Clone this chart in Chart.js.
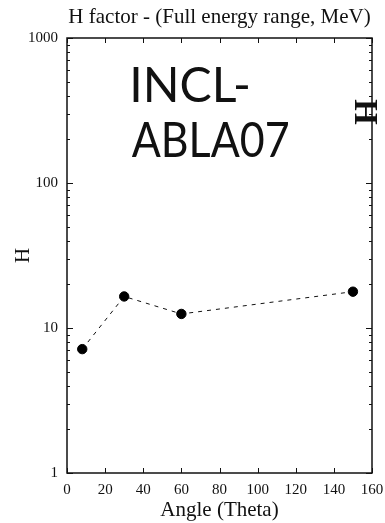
<!DOCTYPE html>
<html>
<head>
<meta charset="utf-8">
<script src="https://cdn.jsdelivr.net/npm/chart.js@4"></script>
<style>
  html, body { margin: 0; padding: 0; background: #fff; }
  #wrap { width: 385px; height: 523px; }
</style>
</head>
<body>
<div id="wrap"><canvas id="c" width="385" height="523"></canvas></div>
<script>
// H factor versus emission angle
const angles  = [8, 30, 60, 150];
const hValues = [7.15, 16.5, 12.5, 17.8];

// Axis ticks
const xTicks      = [0, 20, 40, 60, 80, 100, 120, 140, 160];
const yMajorTicks = [1, 10, 100, 1000];
const yMinorTicks = [2, 3, 4, 5, 6, 7, 8, 9,
                     20, 30, 40, 50, 60, 70, 80, 90,
                     200, 300, 400, 500, 600, 700, 800, 900];

const titleText  = 'H factor - (Full energy range, MeV)';
const xAxisTitle = 'Angle (Theta)';
const yAxisTitle = 'H';
const sideLabel  = 'H';
const modelLines = ['INCL-', 'ABLA07'];

const SERIF = '"Liberation Serif", "DejaVu Serif", serif';
const INK = '#111';

// Draws a line of text so that its ink spans [left, left + width]
function fitText(ctx, text, left, baseline, width) {
  const m = ctx.measureText(text);
  const inkLeft = -m.actualBoundingBoxLeft;
  const inkW = m.actualBoundingBoxRight + m.actualBoundingBoxLeft;
  const sx = width / inkW;
  ctx.save();
  ctx.translate(left, baseline);
  ctx.scale(sx, 1);
  ctx.fillText(text, -inkLeft, 0);
  ctx.restore();
}

// Frame with inward ticks on all four sides, plus the free text
const framePlugin = {
  id: 'frame',
  afterDraw(chart) {
    const { ctx, chartArea: a, scales: { x, y } } = chart;
    ctx.save();
    ctx.strokeStyle = INK;
    ctx.lineWidth = 1.5;
    ctx.strokeRect(a.left, a.top, a.right - a.left, a.bottom - a.top);

    ctx.lineWidth = 1;
    ctx.beginPath();
    xTicks.forEach(v => {
      const px = Math.round(x.getPixelForValue(v)) + 0.5;
      ctx.moveTo(px, a.bottom); ctx.lineTo(px, a.bottom - 5);
      ctx.moveTo(px, a.top);    ctx.lineTo(px, a.top + 5);
    });
    yMajorTicks.forEach(v => {
      const py = Math.round(y.getPixelForValue(v)) + 0.5;
      ctx.moveTo(a.left, py);  ctx.lineTo(a.left + 6, py);
      ctx.moveTo(a.right, py); ctx.lineTo(a.right - 6, py);
    });
    yMinorTicks.forEach(v => {
      const py = Math.round(y.getPixelForValue(v)) + 0.5;
      ctx.moveTo(a.left, py);  ctx.lineTo(a.left + 3, py);
      ctx.moveTo(a.right, py); ctx.lineTo(a.right - 3, py);
    });
    ctx.stroke();

    // Title centred over the plot area
    ctx.fillStyle = INK;
    ctx.textAlign = 'center';
    ctx.textBaseline = 'alphabetic';
    ctx.font = '21px ' + SERIF;
    ctx.fillText(titleText, (a.left + a.right) / 2, 22.5);

    // Model name
    ctx.textAlign = 'left';
    ctx.font = '47.5px Lato, "DejaVu Sans", sans-serif';
    fitText(ctx, modelLines[0], 133.3, 101.5, 115);
    fitText(ctx, modelLines[1], 131.7, 156.5, 156.6);

    // Rotated marker on the right edge
    ctx.save();
    ctx.translate(367, 112);
    ctx.rotate(-Math.PI / 2);
    ctx.textAlign = 'center';
    ctx.textBaseline = 'middle';
    ctx.font = 'bold 33px ' + SERIF;
    ctx.fillText(sideLabel, 0, 1);
    ctx.restore();

    ctx.restore();
  }
};

new Chart(document.getElementById('c'), {
  type: 'scatter',
  data: {
    datasets: [{
      data: angles.map((a, i) => ({ x: a, y: hValues[i] })),
      showLine: true,
      borderColor: INK,
      borderWidth: 1,
      borderDash: [4, 5],
      pointBackgroundColor: '#000',
      pointBorderColor: '#000',
      pointRadius: 4.7,
      pointHoverRadius: 4.7,
      tension: 0
    }]
  },
  options: {
    responsive: false,
    animation: false,
    devicePixelRatio: 1,
    layout: { padding: { top: 38, right: 13, left: 0, bottom: 0 } },
    plugins: {
      legend: { display: false },
      tooltip: { enabled: false },
      title: { display: false }
    },
    scales: {
      x: {
        type: 'linear',
        min: 0, max: 160,
        afterFit: s => { s.height = 50; s.paddingLeft = 0; s.paddingRight = 0; },
        afterBuildTicks: s => { s.ticks = xTicks.map(v => ({ value: v })); },
        grid: { display: false, drawTicks: false },
        border: { display: false },
        ticks: {
          color: INK, padding: 8, maxRotation: 0, autoSkip: false,
          font: { family: SERIF, size: 15 }
        },
        title: {
          display: true, text: xAxisTitle, color: INK,
          padding: { top: 0, bottom: 0 },
          font: { family: SERIF, size: 21 }
        }
      },
      y: {
        type: 'logarithmic',
        min: 1, max: 1000,
        afterFit: s => { s.width = 67; s.paddingTop = 0; s.paddingBottom = 0; },
        afterBuildTicks: s => { s.ticks = yMajorTicks.map(v => ({ value: v })); },
        grid: { display: false, drawTicks: false },
        border: { display: false },
        ticks: {
          color: INK, padding: 9, autoSkip: false,
          font: { family: SERIF, size: 15 },
          callback: v => String(v)
        },
        title: {
          display: true, text: yAxisTitle, color: INK,
          padding: { top: 11, bottom: 0 },
          font: { family: SERIF, size: 21 }
        }
      }
    }
  },
  plugins: [framePlugin]
});
</script>
</body>
</html>
